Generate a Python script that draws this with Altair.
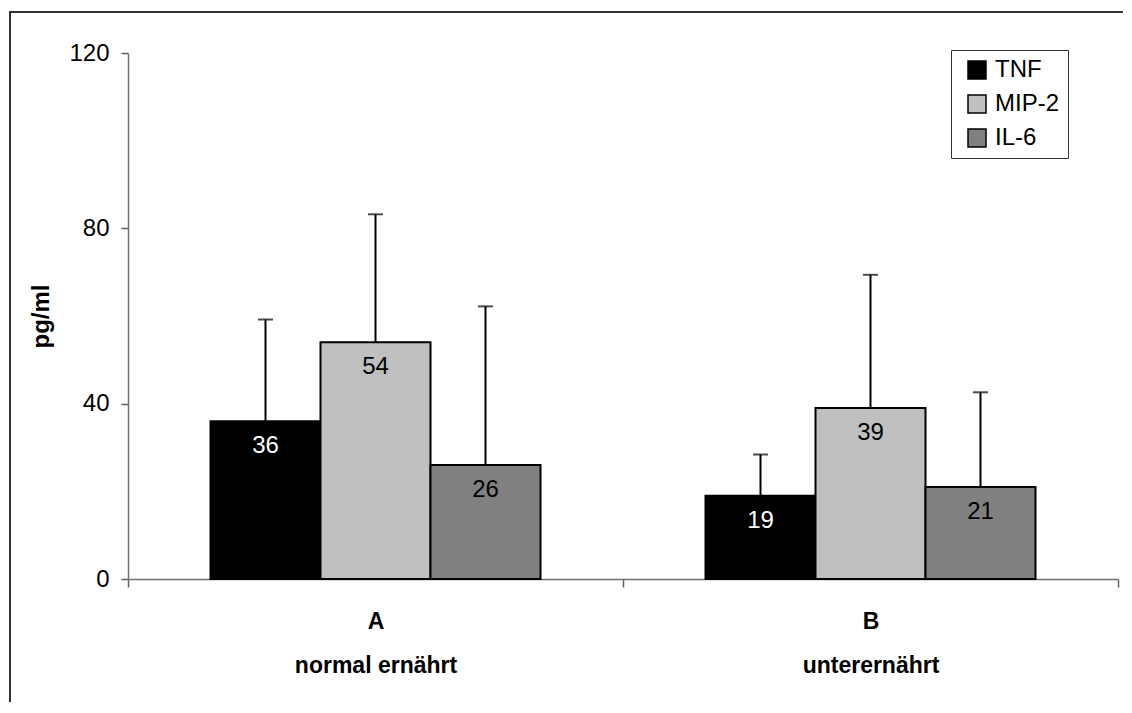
import altair as alt
import pandas as pd

groups = ["A", "B"]
group_subtitles = ["normal ernährt", "unterernährt"]
cytokines = ["TNF", "MIP-2", "IL-6"]
colors = ["#000000", "#c0c0c0", "#808080"]
label_colors = ["white", "black", "black"]
means_A = [36, 54, 26]
means_B = [19, 39, 21]
upper_A = [59.2, 83.2, 62.2]
upper_B = [28.4, 69.4, 42.6]
y_ticks = [0, 40, 80, 120]

rows = []
for g, means, ups in [(groups[0], means_A, upper_A), (groups[1], means_B, upper_B)]:
    for c, m, u, lc in zip(cytokines, means, ups, label_colors):
        rows.append({"group": g, "cytokine": c, "mean": m, "upper": u, "lc": lc})
df = pd.DataFrame(rows)

label_expr = "datum.extra ? '' : (datum.value == '{0}' ? ['{0}', '{1}'] : ['{2}', '{3}'])".format(
    groups[0], group_subtitles[0], groups[1], group_subtitles[1])

FONT = "Liberation Sans"

x_enc = alt.X("group:N", sort=groups,
              scale=alt.Scale(paddingInner=0, paddingOuter=0),
              axis=alt.Axis(title=None, labelAngle=0, tickBand="extent",
                            labelExpr=label_expr, labelFontSize=23,
                            labelFontWeight="bold", labelColor="black",
                            labelLineHeight=44, labelPadding=23, labelBaseline="top",
                            tickSize=8, tickColor="#606060", tickWidth=1.5,
                            domainColor="#707070", domainWidth=1.5))
xoff = alt.XOffset("cytokine:N", sort=cytokines,
                   scale=alt.Scale(paddingInner=0, paddingOuter=0.75))

base = alt.Chart(df)

bars = base.mark_bar(stroke="black", strokeWidth=2).encode(
    x=x_enc,
    xOffset=xoff,
    y=alt.Y("mean:Q",
            scale=alt.Scale(domain=[0, 120], nice=False),
            axis=alt.Axis(title="pg/ml", values=y_ticks, grid=False,
                          titleFontSize=24, titleFontWeight="bold", titleColor="black",
                          titlePadding=15,
                          labelFontSize=24, labelColor="black", labelPadding=12,
                          tickSize=7, tickColor="#606060", tickWidth=1.5,
                          domainColor="#707070", domainWidth=1.5)),
    color=alt.Color("cytokine:N", sort=cytokines,
                    scale=alt.Scale(domain=cytokines, range=colors),
                    legend=alt.Legend(title=None, orient="none", legendX=823, legendY=-3,
                                      symbolType="square", symbolSize=324,
                                      symbolStrokeColor="black", symbolStrokeWidth=1.5,
                                      labelFontSize=24, labelColor="black",
                                      labelOffset=6, rowPadding=10, padding=8,
                                      symbolOffset=6,
                                      strokeColor="#333333", fillColor="white")),
)

err_line = base.mark_rule(color="black", strokeWidth=2).encode(
    x=alt.X("group:N", sort=groups),
    xOffset=alt.XOffset("cytokine:N", sort=cytokines),
    y="mean:Q",
    y2="upper:Q",
)

err_cap = base.mark_tick(color="black", thickness=2, size=15, orient="horizontal").encode(
    x=alt.X("group:N", sort=groups),
    xOffset=alt.XOffset("cytokine:N", sort=cytokines),
    y="upper:Q",
)

labels = base.mark_text(fontSize=24, baseline="middle", dy=25).encode(
    x=alt.X("group:N", sort=groups),
    xOffset=alt.XOffset("cytokine:N", sort=cytokines),
    y="mean:Q",
    text=alt.Text("mean:Q"),
    color=alt.Color("lc:N", scale=None),
)

frame_df = pd.DataFrame({"k": [0]})
frame_left = alt.Chart(frame_df).mark_rule(color="#333333", strokeWidth=2).encode(
    x=alt.value(-118), y=alt.value(-42), y2=alt.value(649))
frame_top = alt.Chart(frame_df).mark_rule(color="#333333", strokeWidth=2).encode(
    x=alt.value(-119), x2=alt.value(995), y=alt.value(-41))

chart = alt.layer(frame_left, frame_top, bars, err_line, err_cap, labels).properties(
    width=990, height=526,
    padding={"left": 0, "top": 2, "right": 0, "bottom": 0},
).configure(font=FONT).configure_view(stroke=None)

chart.save("out.html", embed_options={"renderer": "svg", "actions": False})
